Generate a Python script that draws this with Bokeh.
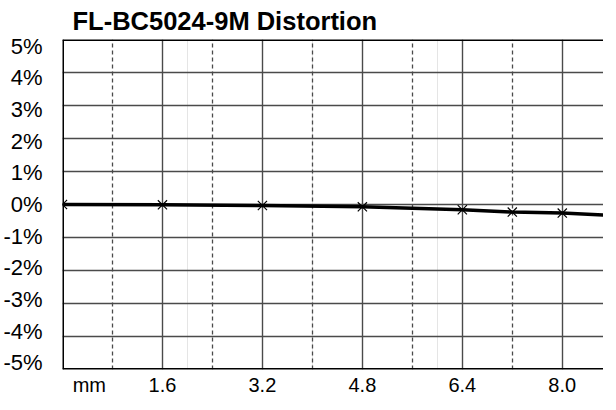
from bokeh.plotting import figure
from bokeh.models import Range1d, LinearAxis, FixedTicker, Grid, Span
from bokeh.embed import file_html
from bokeh.resources import INLINE

# ---- data ----
chart_title = "FL-BC5024-9M Distortion"
field_mm = [0.0, 1.6, 3.2, 4.8, 6.4, 7.2, 8.0, 8.8]
distortion_pct = [0.0, -0.01, -0.03, -0.07, -0.16, -0.23, -0.26, -0.33]

y_ticks = [-5, -4, -3, -2, -1, 0, 1, 2, 3, 4, 5]
y_tick_labels = {t: f"{t}%" for t in y_ticks}

x_major_grid = [1.6, 3.2, 4.8, 6.4, 8.0]
x_minor_grid = [0.8, 2.4, 4.0, 5.6, 7.2]
x_tick_pos = [0.43, 1.6, 3.2, 4.8, 6.4, 8.0]
x_tick_labels = ["mm", "1.6", "3.2", "4.8", "6.4", "8.0"]

# visible window (the chart is cropped on the right just before 8.8 mm)
X_MIN, X_MAX = 0.0, 8.66
Y_MIN, Y_MAX = -5.0, 5.0
FONT = "Liberation Sans"

p = figure(frame_width=541, frame_height=330,
           x_range=Range1d(X_MIN, X_MAX), y_range=Range1d(Y_MIN, Y_MAX),
           output_backend="svg", toolbar_location=None,
           x_axis_location=None, y_axis_location=None,
           min_border_left=59, min_border_right=0,
           min_border_top=36, min_border_bottom=0)

p.background_fill_color = "white"
p.border_fill_color = "white"
p.outline_line_color = None

# title
p.title.text = chart_title
p.title.text_font = FONT
p.title.text_font_size = "25.5px"
p.title.text_font_style = "bold"
p.title.text_color = "black"
p.title.align = "left"
p.title.offset = 10
p.title.standoff = 9

# y axis labels on a slightly wider range (labels sit inside the grid lines)
p.extra_y_ranges = {"lab": Range1d(-5.21, 5.21)}
yax = LinearAxis(y_range_name="lab", ticker=FixedTicker(ticks=y_ticks))
yax.major_label_overrides = y_tick_labels
yax.axis_line_color = None
yax.major_tick_line_color = None
yax.major_tick_out = 0
yax.major_tick_in = 0
yax.minor_tick_line_color = None
yax.major_label_standoff = 20
yax.major_label_text_font = FONT
yax.major_label_text_font_size = "22px"
yax.major_label_text_color = "black"
p.add_layout(yax, "left")

# x axis labels
xax = LinearAxis(ticker=FixedTicker(ticks=x_tick_pos))
xax.major_label_overrides = dict(zip(x_tick_pos, x_tick_labels))
xax.axis_line_color = None
xax.major_tick_line_color = None
xax.major_tick_out = 0
xax.major_tick_in = 0
xax.minor_tick_line_color = None
xax.major_label_standoff = 4
xax.major_label_text_font = FONT
xax.major_label_text_font_size = "20px"
xax.major_label_text_color = "black"
p.add_layout(xax, "below")

# grids
GRID_COLOR = "#4a4a4a"
p.add_layout(Grid(dimension=1, ticker=FixedTicker(ticks=y_ticks),
                  grid_line_color=GRID_COLOR, grid_line_width=1.4))
p.add_layout(Grid(dimension=0, ticker=FixedTicker(ticks=x_major_grid),
                  grid_line_color=GRID_COLOR, grid_line_width=1.4))
p.add_layout(Grid(dimension=0, ticker=FixedTicker(ticks=x_minor_grid),
                  grid_line_color=GRID_COLOR, grid_line_width=1.3,
                  grid_line_dash="4 3"))

# frame borders (left, top, bottom)
for loc, dim in ((Y_MAX, "width"), (Y_MIN, "width"), (X_MIN, "height")):
    p.add_layout(Span(location=loc, dimension=dim, line_color="black", line_width=3))

# data
p.line(field_mm, distortion_pct, line_color="black", line_width=3.5)
p.scatter(field_mm, distortion_pct, marker="x", size=13,
          line_color="black", line_width=1.2)

open("out.html", "w").write(file_html(p, INLINE))
